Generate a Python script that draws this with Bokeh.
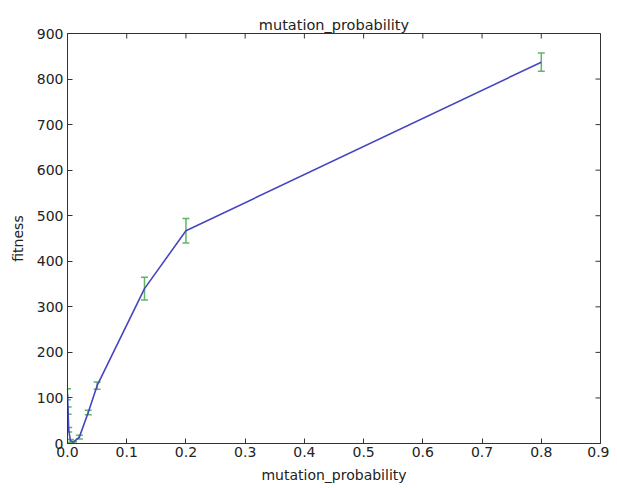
from bokeh.plotting import figure
from bokeh.models import ColumnDataSource, Whisker, FixedTicker, NumeralTickFormatter, Range1d, TeeHead
from bokeh.embed import file_html
from bokeh.resources import INLINE

mutation_probability = [0.0, 0.001, 0.002, 0.005, 0.01, 0.02, 0.035, 0.05, 0.13, 0.2, 0.8]
fitness = [108, 72, 30, 6, 3, 14, 68, 127, 340, 467, 837]
fitness_err = [12, 8, 5, 3, 2, 4, 5, 8, 25, 27, 20]
x_ticks = [0.0, 0.1, 0.2, 0.3, 0.4, 0.5, 0.6, 0.7, 0.8, 0.9]
y_ticks = [0, 100, 200, 300, 400, 500, 600, 700, 800, 900]
x_max, y_max = 0.9, 900

src = ColumnDataSource(dict(
    x=mutation_probability,
    y=fitness,
    lo=[v - e for v, e in zip(fitness, fitness_err)],
    hi=[v + e for v, e in zip(fitness, fitness_err)],
))

FW, FH = 533, 410
p = figure(frame_width=FW, frame_height=FH, output_backend="svg", toolbar_location=None,
           x_range=Range1d(0, x_max), y_range=Range1d(0, y_max),
           min_border_left=67, min_border_right=9, min_border_top=33, min_border_bottom=40,
           title="mutation_probability")
p.title.align = "center"
p.title.text_font = "DejaVu Sans"
p.title.text_font_size = "14.5px"
p.title.text_font_style = "normal"
p.title.text_color = "#222222"
p.title.standoff = 2

p.grid.visible = False
p.outline_line_color = "#333333"
p.outline_line_width = 1

font = "DejaVu Sans"
for ax in (p.xaxis[0], p.yaxis[0]):
    ax.major_tick_in = 5
    ax.major_tick_out = 0
    ax.minor_tick_line_color = None
    ax.axis_line_color = "#333333"
    ax.major_tick_line_color = "#333333"
    ax.major_label_text_font = font
    ax.major_label_text_font_size = "14px"
    ax.major_label_text_color = "#222222"
    ax.axis_label_text_font = font
    ax.axis_label_text_font_size = "14px"
    ax.axis_label_text_font_style = "normal"
    ax.axis_label_text_color = "#222222"

p.xaxis[0].ticker = FixedTicker(ticks=x_ticks)
p.xaxis[0].formatter = NumeralTickFormatter(format="0.0")
p.xaxis[0].axis_label = "mutation_probability"
p.xaxis[0].major_label_standoff = 3
p.xaxis[0].axis_label_standoff = 7
p.yaxis[0].ticker = FixedTicker(ticks=y_ticks)
p.yaxis[0].axis_label = "fitness"
p.yaxis[0].major_label_standoff = 4
p.yaxis[0].axis_label_standoff = 8

# inward ticks on the top and right frame edges (5 px long)
tx = 5 * x_max / FW
ty = 5 * y_max / FH
p.segment(x0=x_ticks, y0=[y_max] * len(x_ticks), x1=x_ticks, y1=[y_max - ty] * len(x_ticks),
          line_color="#333333", line_width=1)
p.segment(x0=[x_max] * len(y_ticks), y0=y_ticks, x1=[x_max - tx] * len(y_ticks), y1=y_ticks,
          line_color="#333333", line_width=1)

p.line("x", "y", source=src, line_color="#4646c0", line_width=1.6)
w = Whisker(source=src, base="x", lower="lo", upper="hi", line_color="#62b566", line_width=1.5,
            upper_head=TeeHead(size=7, line_color="#62b566", line_width=1.5),
            lower_head=TeeHead(size=7, line_color="#62b566", line_width=1.5))
p.add_layout(w)

open("out.html", "w").write(file_html(p, INLINE))
